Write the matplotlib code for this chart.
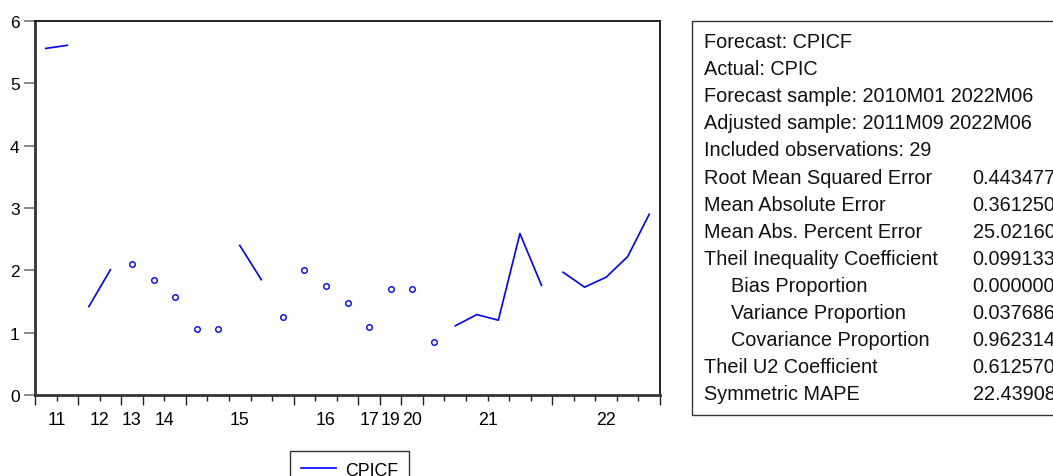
import numpy as np
import matplotlib
matplotlib.use("Agg")
import matplotlib.pyplot as plt
from matplotlib.patches import Rectangle
from matplotlib.lines import Line2D

plt.rcParams['font.family'] = ['Liberation Sans', 'DejaVu Sans']

# ---- data ----
cpicf = [5.56, 5.61, 1.42, 2.01, 2.10, 1.84, 1.57, 1.06, 1.06, 2.40,
         1.85, 1.25, 2.00, 1.75, 1.48, 1.09, 1.70, 1.70, 0.85, 1.11,
         1.29, 1.20, 2.59, 1.76, 1.97, 1.73, 1.89, 2.22, 2.90]
# observation indices where a new (non-contiguous) run of dates begins
breaks_before = [2, 4, 5, 6, 7, 8, 9, 11, 12, 13, 14, 15, 16, 17, 18, 19, 24]
year_labels = ['11', '12', '13', '14', '15', '16', '17', '19', '20', '21', '22']
obs_per_year = [2, 2, 1, 2, 5, 3, 1, 1, 1, 6, 5]
y_ticks = [0, 1, 2, 3, 4, 5, 6]

stat_names = ["Forecast: CPICF", "Actual: CPIC",
              "Forecast sample: 2010M01 2022M06",
              "Adjusted sample: 2011M09 2022M06",
              "Included observations: 29",
              "Root Mean Squared Error", "Mean Absolute Error",
              "Mean Abs. Percent Error", "Theil Inequality Coefficient",
              "Bias Proportion", "Variance Proportion",
              "Covariance Proportion", "Theil U2 Coefficient",
              "Symmetric MAPE"]
stat_values = ["", "", "", "", "", "0.443477", "0.361250", "25.02160",
               "0.099133", "0.000000", "0.037686", "0.962314", "0.612570",
               "22.43908"]
stat_indent = [0, 0, 0, 0, 0, 0, 0, 0, 0, 1, 1, 1, 0, 0]

# ---- figure ----
W, H = 1053, 477
fig = plt.figure(figsize=(W / 100, H / 100), dpi=100)

def fx(px):
    return px / W

def fy(py):
    return 1 - py / H

ax = fig.add_axes([fx(35), fy(396), fx(660) - fx(35), fy(22) - fy(396)])
blue = '#0000ff'

n = len(cpicf)
x = np.arange(n)
bounds = [0] + breaks_before + [n]
for a, b in zip(bounds[:-1], bounds[1:]):
    xs, ys = x[a:b], cpicf[a:b]
    if b - a == 1:
        ax.plot(xs, ys, linestyle='none', marker='o', ms=4.0, mfc='none',
                mec=blue, mew=1.0, color=blue)
    else:
        ax.plot(xs, ys, color=blue, lw=1.2)

ax.set_xlim(-0.5, n - 0.5)
ax.set_ylim(0, 6)

# y axis
ax.set_yticks(y_ticks)
ax.tick_params(axis='y', direction='out', length=8, width=1.2, color='#777777',
               labelsize=12.5, pad=3)

# x axis: boundary ticks
cum = np.cumsum([0] + obs_per_year)
ax.set_xticks(cum - 0.5)
ax.set_xticklabels([])
ax.set_xticks(np.arange(n + 1) - 0.5, minor=True)
ax.tick_params(axis='x', which='major', direction='out', length=7, width=1.0,
               color='#222222')
ax.tick_params(axis='x', which='minor', direction='out', length=4, width=1.0,
               color='#222222')

# year labels centred on their observation groups
centers = (cum[:-1] + cum[1:] - 1) / 2.0
sec = ax.secondary_xaxis('bottom')
sec.set_xticks(centers)
sec.set_xticklabels(year_labels)
sec.tick_params(length=0, labelsize=12.8, pad=11.5)
sec.spines['bottom'].set_visible(False)

for s in ['left', 'bottom']:
    ax.spines[s].set_linewidth(2.0)
    ax.spines[s].set_color('#333333')
for s in ['top', 'right']:
    ax.spines[s].set_linewidth(1.3)
    ax.spines[s].set_color('#111111')

# legend
handle = Line2D([], [], color=blue, lw=1.2)
fig.legend([handle], ['CPICF'], loc='upper left',
           bbox_to_anchor=(fx(290), fy(452)), borderaxespad=0,
           fancybox=False, edgecolor='#333333', framealpha=1,
           fontsize=12.8, handlelength=2.0, handletextpad=0.5,
           borderpad=0.6)

# statistics panel
fig.patches.append(Rectangle((fx(691.5), fy(415.7)), fx(1060) - fx(691.5),
                             fy(21.7) - fy(415.7), transform=fig.transFigure,
                             fill=False, edgecolor='#333333', lw=1.0))
for k, (name, val, ind) in enumerate(zip(stat_names, stat_values, stat_indent)):
    yb = fy(48.3 + 27.05 * k)
    fig.text(fx(703.5 + 27.5 * ind), yb, name, fontsize=14.3, va='baseline',
             ha='left', color='#111111')
    if val:
        fig.text(fx(972.5), yb, val, fontsize=14.3, va='baseline', ha='left',
                 color='#111111')

fig.savefig('out.png', dpi=100)
